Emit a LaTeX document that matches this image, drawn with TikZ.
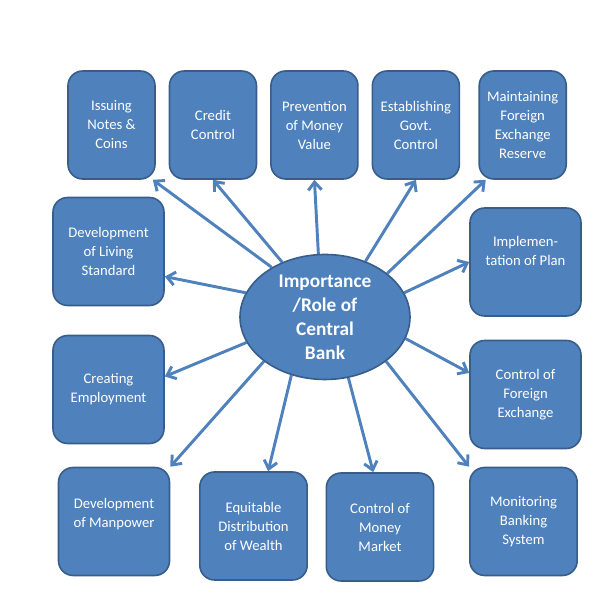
\documentclass[tikz,border=0pt]{standalone}
\usepackage{fontspec}
\setmainfont{Carlito}
\usetikzlibrary{positioning,arrows.meta,backgrounds,shapes.geometric}
\definecolor{bankblue}{HTML}{4F81BD}
\definecolor{bankborder}{HTML}{385D8A}

\begin{document}
\begin{tikzpicture}[
  x=0.75pt, y=0.75pt,
  hub/.style = {ellipse, fill=bankblue, draw=bankborder, line width=1.2pt, minimum width=127.5pt, minimum height=93.75pt, inner sep=0pt},
  hub_lab/.style = {text=white, align=center, font=\fontsize{14.5}{18}\selectfont\bfseries},
  rolebox/.style = {rectangle, rounded corners=11pt, fill=bankblue, draw=bankborder, line width=1.2pt, text=white, align=center, minimum height=81pt, inner sep=2pt, font=\fontsize{11}{14.25}\selectfont},
  topbox/.style = {rolebox, minimum width=65.25pt, node distance=76.1pt},
  sidebox/.style = {rolebox, minimum width=83.25pt},
  midbox/.style = {rolebox, minimum width=80.5pt},
  link/.style = {-{Straight Barb[length=6pt,width=10pt]}, line width=2.2pt, draw=bankblue}
  ]
  \useasboundingbox (0,0) rectangle (601,599);

  \node[hub] (bank) at (325,282) {};
  \node[hub_lab] (bank_lab) at (bank.center) {Importance\\/Role of\\Central\\Bank};

  % top row
  \node[topbox] (issue) at (111.5,474) {Issuing\\Notes \&\\Coins};
  \node[topbox, right of = issue] (credit) {Credit\\Control};
  \node[topbox, right of = credit] (prevent) {Prevention\\of Money\\Value};
  \node[topbox, right of = prevent] (govt) {Establishing\\Govt.\\Control};
  \node[topbox, right of = govt, xshift=4pt] (reserve) {Maintaining\\Foreign\\Exchange\\Reserve};

  % left side and bottom
  \node[sidebox] (living) at (108.5,347.5) {Development\\of Living\\Standard};
  \node[sidebox] (employ) at (108.5,209.5) {Creating\\Employment};
  \node[sidebox, text depth=12.5pt] (manpower) at (114,77.5) {Development\\of Manpower};
  \node[midbox] (wealth) at (253.5,73) {Equitable\\Distribution\\of Wealth};
  \node[midbox] (market) at (380,72) {Control of\\Money\\Market};

  % right side
  \node[midbox] (monitor) at (523.5,77.5) {Monitoring\\Banking\\System};
  \node[sidebox] (forex) at (525.5,204.5) {Control of\\Foreign\\Exchange};
  \node[sidebox, text depth=16pt] (plan) at (525.5,337) {Implemen-\\tation of Plan};

  \begin{scope}[on background layer]
    \draw[link] (bank.137) -- (issue.-53);
    \draw[link] (bank.128) -- (credit.south);
    \draw[link] (bank.96) -- (prevent.south);
    \draw[link] (bank.54) -- (govt.south);
    \draw[link] (bank.35) -- (reserve.236);
    \draw[link] (bank.17) -- (plan.west);
    \draw[link] (bank.-15) -- (forex.159);
    \draw[link] (bank.-36) -- (monitor.north west);
    \draw[link] (bank.-69) -- (market.97);
    \draw[link] (bank.240) -- (wealth.75);
    \draw[link] (bank.216) -- (manpower.north east);
    \draw[link] (bank.198) -- (employ.13);
    \draw[link] (bank.163) -- (living.-24);
  \end{scope}

\end{tikzpicture}
\end{document}
